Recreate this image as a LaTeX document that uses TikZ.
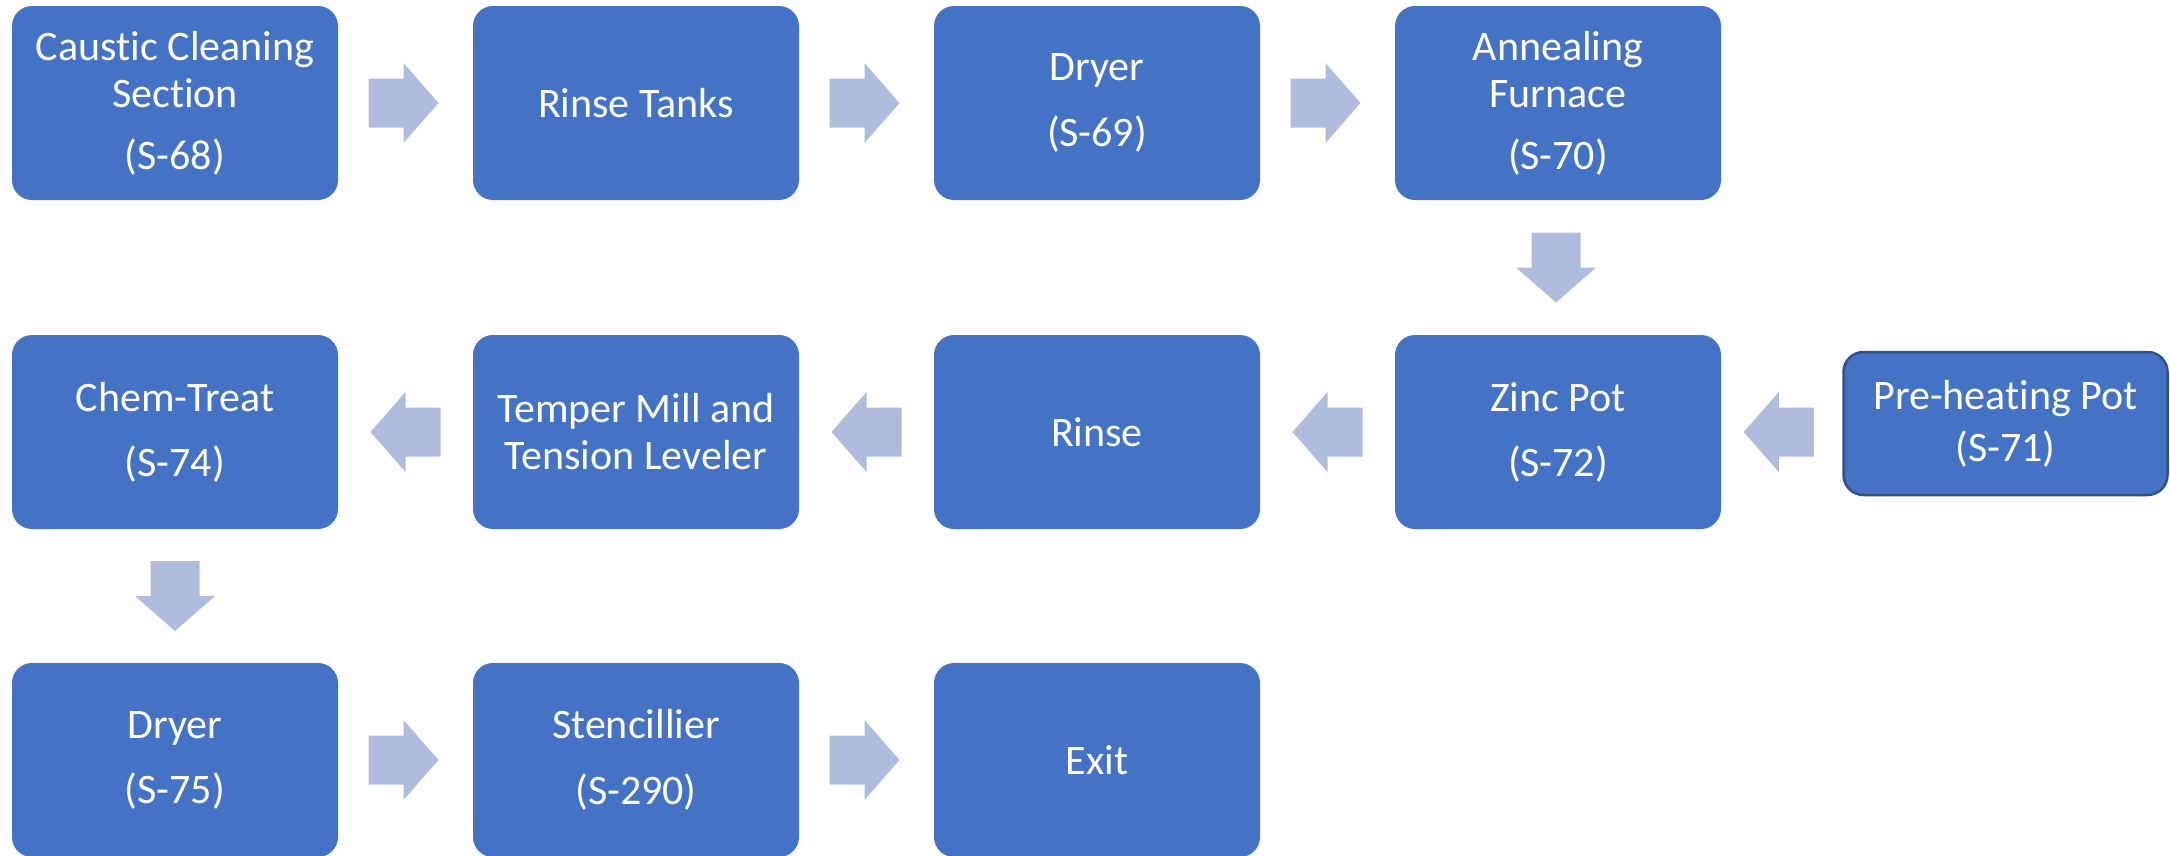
\documentclass[tikz,border=0pt]{standalone}
\usepackage{fontspec}
\setmainfont{Carlito}[Ligatures={NoCommon,NoRare}]
\usetikzlibrary{calc}

\definecolor{boxblue}{HTML}{4472C4}
\definecolor{edgeblue}{HTML}{2F528F}
\definecolor{flowfill}{RGB}{176,188,222}

\tikzset{
  stage/.style={rectangle, rounded corners=20, fill=boxblue, text=white,
    minimum width=326, minimum height=194, inner sep=0, align=center,
    font=\fontsize{42}{47}\selectfont},
  feeder/.style={stage, draw=edgeblue, line width=2.5,
    minimum width=324, minimum height=143},
  flow/.pic={\fill[flowfill] (-35,-24.5) -- (0,-24.5) -- (0,-40) -- (35,0)
    -- (0,40) -- (0,24.5) -- (-35,24.5) -- cycle;}
}

\begin{document}
\begin{tikzpicture}[x=1pt,y=-1pt]
\useasboundingbox (0,0) rectangle (2170,855);

% first row: cleaning to annealing
\node[stage] (caustic) at (175,103) {Caus\kern0pt tic Cleaning\\Section\\[15pt](S-68)};
\node[stage] (rinsetanks) at (636,103) {Rinse Tanks};
\node[stage] (dryerA) at (1097,103) {Dryer\\[19pt](S-69)};
\node[stage] (anneal) at (1558,103) {Annealing\\Furnace\\[15pt](S-70)};

% second row: coating and finishing, running right to left
\node[stage] (zinc) at (1558,432) {Zinc Pot\\[18pt](S-72)};
\node[feeder] (preheat) at (2005.5,423.5) {Pre-heating Pot\\[5pt](S-71)};
\node[stage] (rinse) at (1097,432) {Rinse};
\node[stage] (temper) at (636,432) {Temper Mill and\\Tension Leveler};
\node[stage] (chem) at (175,432) {Chem-Treat\\[18pt](S-74)};

% third row: drying and exit
\node[stage] (dryerB) at (175,760) {Dryer\\[18pt](S-75)};
\node[stage] (stencil) at (636,760) {Stencillier\\[19pt](S-290)};
\node[stage] (exit) at (1097,760) {Exit};

% block arrows between the stages
\pic[xshift=-2] at ($(caustic.east)!0.5!(rinsetanks.west)$) {flow};
\pic[xshift=-2] at ($(rinsetanks.east)!0.5!(dryerA.west)$) {flow};
\pic[xshift=-2] at ($(dryerA.east)!0.5!(anneal.west)$) {flow};
\pic[rotate=-90,yshift=-2] at ($(anneal.south)!0.5!(zinc.north)$) {flow};
\pic[rotate=180,xshift=3] at ($(zinc.east)!0.5!(zinc.east -| preheat.west)$) {flow};
\pic[rotate=180] at ($(rinse.east)!0.5!(zinc.west)$) {flow};
\pic[rotate=180] at ($(temper.east)!0.5!(rinse.west)$) {flow};
\pic[rotate=180] at ($(chem.east)!0.5!(temper.west)$) {flow};
\pic[rotate=-90] at ($(chem.south)!0.5!(dryerB.north)$) {flow};
\pic[xshift=-2] at ($(dryerB.east)!0.5!(stencil.west)$) {flow};
\pic[xshift=-2] at ($(stencil.east)!0.5!(exit.west)$) {flow};
\end{tikzpicture}
\end{document}
